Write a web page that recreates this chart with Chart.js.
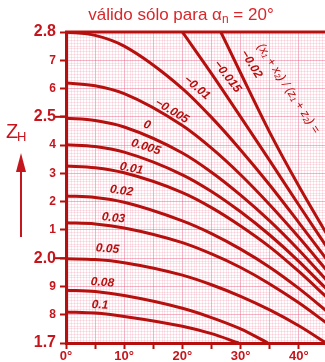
<!DOCTYPE html>
<html>
<head>
<meta charset="utf-8">
<script src="https://cdn.jsdelivr.net/npm/chart.js@4/dist/chart.umd.min.js"></script>
<style>
  html, body { margin: 0; padding: 0; background: #fff; }
</style>
</head>
<body>
<canvas id="zhChart" width="325" height="362"></canvas>
<script>
// helix angle (deg) and zone factor Z_H, one curve per (x1+x2)/(z1+z2)
const betaFull = [0, 5, 10, 20, 25, 30, 35, 40, 45];
const betaM020 = [26.6, 30, 35, 40, 45];
const betaM015 = [20, 25, 30, 35, 40, 45];
const betaP050 = [0, 5, 10, 20, 25, 30, 35, 40, 44.7];
const betaP080 = [0, 5, 10, 20, 25, 30, 34.7];
const betaP100 = [0, 5, 10, 20, 25, 29.7];

const zhM020 = [2.800, 2.655, 2.445, 2.255, 2.078];
const zhM015 = [2.800, 2.653, 2.500, 2.345, 2.188, 2.034];
const zhM010 = [2.800, 2.788, 2.750, 2.600, 2.498, 2.383, 2.259, 2.126, 1.990];
const zhM005 = [2.620, 2.610, 2.582, 2.469, 2.389, 2.295, 2.189, 2.074, 1.952];
const zhP000 = [2.495, 2.487, 2.464, 2.372, 2.304, 2.223, 2.132, 2.029, 1.917];
const zhP005 = [2.401, 2.395, 2.375, 2.295, 2.236, 2.164, 2.082, 1.989, 1.886];
const zhP010 = [2.326, 2.320, 2.302, 2.232, 2.179, 2.114, 2.040, 1.953, 1.858];
const zhP020 = [2.220, 2.215, 2.198, 2.132, 2.087, 2.032, 1.968, 1.893, 1.809];
const zhP030 = [2.125, 2.121, 2.107, 2.055, 2.015, 1.967, 1.909, 1.842, 1.767];
const zhP050 = [1.998, 1.995, 1.984, 1.940, 1.906, 1.865, 1.817, 1.761, 1.700];
const zhP080 = [1.887, 1.882, 1.868, 1.823, 1.790, 1.750, 1.700];
const zhP100 = [1.810, 1.806, 1.794, 1.759, 1.733, 1.700];

const curveNames = ["−0.02", "−0.015", "−0.01", "−0.005", "0", "0.005", "0.01", "0.02", "0.03", "0.05", "0.08", "0.1"];
const curveX = [betaM020, betaM015, betaFull, betaFull, betaFull, betaFull, betaFull, betaFull, betaFull, betaP050, betaP080, betaP100];
const curveY = [zhM020, zhM015, zhM010, zhM005, zhP000, zhP005, zhP010, zhP020, zhP030, zhP050, zhP080, zhP100];

const yTickLabels = ["1.7", "8", "9", "2.0", "1", "2", "3", "4", "2.5", "6", "7", "2.8"];
const xTickLabels = ["0°", "10°", "20°", "30°", "40°"];

// where the curve labels sit (beta, Z_H) and their slant in degrees
const labelBeta = [31.85, 27.73, 22.49, 18.2, 13.9, 13.73, 11.24, 9.53, 8.15, 7.12, 6.27, 5.84];
const labelZh = [2.686, 2.642, 2.603, 2.520, 2.471, 2.393, 2.317, 2.238, 2.142, 2.033, 1.914, 1.834];
const labelAngle = [58, 52, 40, 31, 20, 17, 11, 8, 6, 5, 4, 3];

const DARK = "#b5100d";
const TEXT = "#c5161d";
const TITLE = "#d9262b";
const FONT = '"Liberation Sans", Arial, sans-serif';

const datasets = curveNames.map((name, i) => ({
  label: name,
  data: curveX[i].map((b, j) => ({ x: b, y: curveY[i][j] })),
  borderColor: DARK,
  borderWidth: 3,
  pointRadius: 0,
  cubicInterpolationMode: "monotone",
  clip: 0
}));

const decor = {
  id: "decor",
  afterDatasetsDraw(chart) {
    const { ctx, chartArea, scales } = chart;
    const xs = scales.x, ys = scales.y;
    ctx.save();

    // top frame line
    ctx.strokeStyle = DARK;
    ctx.lineWidth = 3;
    ctx.beginPath();
    ctx.moveTo(chartArea.left - 1, chartArea.top);
    ctx.lineTo(chartArea.right, chartArea.top);
    ctx.stroke();

    // longer ticks for the big labels
    ctx.lineWidth = 2;
    [2.5, 2.0].forEach(v => {
      const y = ys.getPixelForValue(v);
      ctx.beginPath();
      ctx.moveTo(55, y);
      ctx.lineTo(chartArea.left, y);
      ctx.stroke();
    });

    // curve labels
    ctx.fillStyle = DARK;
    ctx.textAlign = "center";
    ctx.textBaseline = "middle";
    ctx.font = "italic bold 12px " + FONT;
    curveNames.forEach((name, i) => {
      ctx.save();
      ctx.translate(xs.getPixelForValue(labelBeta[i]), ys.getPixelForValue(labelZh[i]));
      ctx.rotate(labelAngle[i] * Math.PI / 180);
      ctx.fillText(name, 0, 0);
      ctx.restore();
    });

    ctx.save();
    ctx.translate(xs.getPixelForValue(38.2), ys.getPixelForValue(2.60));
    ctx.rotate(57 * Math.PI / 180);
    ctx.font = "italic 12px " + FONT;
    ctx.fillText("(x₁ + x₂) / (z₁ + z₂) =", 0, 0);
    ctx.restore();

    // title with subscript n
    ctx.fillStyle = TITLE;
    ctx.textAlign = "left";
    ctx.textBaseline = "alphabetic";
    const big = "17px " + FONT, small = "12px " + FONT;
    const p1 = "válido sólo para α", p2 = "n", p3 = " = 20°";
    ctx.font = big;
    const w1 = ctx.measureText(p1).width, w3 = ctx.measureText(p3).width;
    ctx.font = small;
    const w2 = ctx.measureText(p2).width;
    let tx = 181 - (w1 + w2 + w3) / 2;
    ctx.font = big;
    ctx.fillText(p1, tx, 20);
    ctx.font = small;
    ctx.fillText(p2, tx + w1, 23);
    ctx.font = big;
    ctx.fillText(p3, tx + w1 + w2, 20);

    // Z_H axis name and arrow
    ctx.fillStyle = TEXT;
    ctx.font = "20px " + FONT;
    ctx.fillText("Z", 6, 138);
    ctx.font = "13px " + FONT;
    ctx.fillText("H", 17, 141);
    ctx.strokeStyle = TEXT;
    ctx.lineWidth = 2;
    ctx.beginPath();
    ctx.moveTo(21, 237);
    ctx.lineTo(21, 168);
    ctx.stroke();
    ctx.beginPath();
    ctx.moveTo(21, 153);
    ctx.lineTo(26, 172);
    ctx.lineTo(16, 172);
    ctx.closePath();
    ctx.fill();

    ctx.restore();
  }
};

new Chart(document.getElementById("zhChart"), {
  type: "line",
  data: { datasets },
  options: {
    responsive: false,
    devicePixelRatio: 1,
    animation: false,
    layout: { padding: { top: 32, right: 0, left: 0, bottom: 0 } },
    plugins: { legend: { display: false }, tooltip: { enabled: false } },
    scales: {
      xf: {
        type: "linear", position: "bottom", min: 0, max: 44.5,
        ticks: { display: false, stepSize: 0.5 },
        grid: {
          drawTicks: false,
          color: c => (Math.round(c.tick.value * 2) % 10 === 0 ? "rgba(230,90,130,0.45)" : "rgba(240,130,165,0.22)"),
          lineWidth: 1
        },
        border: { display: false },
        afterFit: s => { s.height = 0; }
      },
      yf: {
        type: "linear", position: "left", min: 1.7, max: 2.8,
        ticks: { display: false, stepSize: 0.01 },
        grid: {
          drawTicks: false,
          color: c => (Math.round(c.tick.value * 100) % 10 === 0 ? "rgba(230,90,130,0.45)" : "rgba(240,130,165,0.22)"),
          lineWidth: 1
        },
        border: { display: false },
        afterFit: s => { s.width = 0; }
      },
      x: {
        type: "linear", position: "bottom", min: 0, max: 44.5,
        ticks: {
          stepSize: 5, includeBounds: false, autoSkip: false, maxRotation: 0, padding: 0,
          color: TEXT, font: { family: FONT, size: 13, weight: "bold" },
          callback: v => (v % 10 === 0 ? xTickLabels[v / 10] : "")
        },
        grid: { drawOnChartArea: false, tickLength: 6, tickColor: DARK, tickWidth: 2 },
        border: { color: DARK, width: 3 },
        afterFit: s => { s.height = 19; }
      },
      y: {
        type: "linear", position: "left", min: 1.7, max: 2.8,
        ticks: {
          stepSize: 0.1, autoSkip: false, padding: 4,
          color: TEXT,
          font: c => ({ family: FONT, weight: "bold", size: [0, 3, 8, 11].includes(c.index) ? 16 : 12 }),
          callback: (v, i) => yTickLabels[i]
        },
        grid: { drawOnChartArea: false, tickLength: 6, tickColor: DARK, tickWidth: 2 },
        border: { color: DARK, width: 3 },
        afterFit: s => { s.width = 66; }
      }
    }
  },
  plugins: [decor]
});
</script>
</body>
</html>
